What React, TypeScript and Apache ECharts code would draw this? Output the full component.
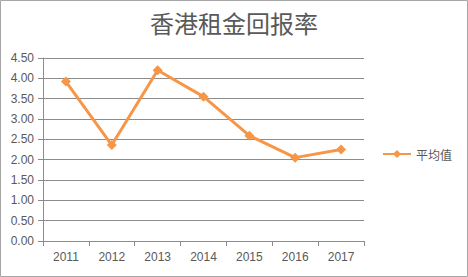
import React, { useEffect, useRef } from "react";
import * as echarts from "echarts";

const categories = ["2011", "2012", "2013", "2014", "2015", "2016", "2017"];
const values = [3.92, 2.36, 4.2, 3.55, 2.59, 2.05, 2.25];
const seriesName = "平均值";
const titleText = "香港租金回报率";

export default function App() {
  const ref = useRef<HTMLDivElement>(null);
  useEffect(() => {
    document.body.style.margin = "0";
    const chart = echarts.init(ref.current!, null, { renderer: "svg" });
    const labelFont = { color: "#595959", fontSize: 12, fontFamily: "Liberation Sans" };
    chart.setOption({
      animation: false,
      backgroundColor: "#fff",
      title: {
        text: titleText,
        left: "center",
        top: 5,
        textStyle: {
          color: "#595959",
          fontSize: 24,
          fontWeight: "normal",
          fontFamily: "Noto Sans CJK SC",
        },
      },
      graphic: [
        {
          type: "rect",
          shape: { x: 0.5, y: 0.5, width: 467, height: 276 },
          style: { fill: "none", stroke: "#a6a6a6", lineWidth: 1 },
          silent: true,
        },
      ],
      legend: {
        left: 377,
        top: 143,
        itemWidth: 28,
        itemHeight: 10,
        itemGap: 5,
        textStyle: { color: "#595959", fontSize: 12, fontFamily: "Noto Sans CJK SC" },
        data: [seriesName],
      },
      grid: { left: 43, right: 104, top: 58, bottom: 36 },
      xAxis: {
        type: "category",
        data: categories,
        boundaryGap: true,
        axisLine: { lineStyle: { color: "#8c8c8c" } },
        axisTick: { show: true, length: 5, lineStyle: { color: "#8c8c8c" } },
        axisLabel: { ...labelFont, margin: 10 },
      },
      yAxis: {
        type: "value",
        min: 0,
        max: 4.5,
        interval: 0.5,
        axisLine: { show: true, lineStyle: { color: "#8c8c8c" } },
        axisTick: { show: true, length: 5, lineStyle: { color: "#8c8c8c" } },
        splitLine: { lineStyle: { color: "#8c8c8c" } },
        axisLabel: {
          ...labelFont,
          margin: 9,
          formatter: (v: number) => v.toFixed(2),
        },
      },
      series: [
        {
          name: seriesName,
          type: "line",
          data: values,
          symbol: "diamond",
          symbolSize: 10,
          lineStyle: { color: "#F79646", width: 3 },
          itemStyle: { color: "#F79646" },
        },
      ],
    });
    return () => chart.dispose();
  }, []);
  return <div ref={ref} style={{ width: 468, height: 277 }} />;
}
